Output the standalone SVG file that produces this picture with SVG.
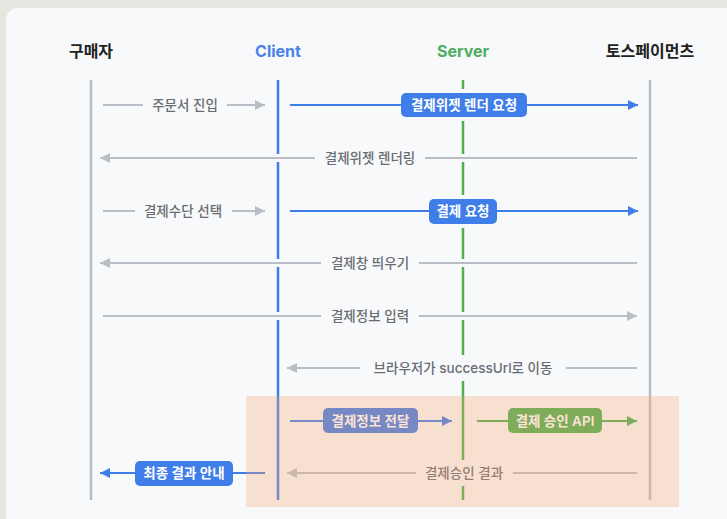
<svg xmlns="http://www.w3.org/2000/svg" width="727" height="519" viewBox="0 0 727 519">
  <style>
    text { font-family: "Inter", "Noto Sans CJK KR", "Noto Sans", sans-serif; }
    .hdr { font-size: 16px; font-weight: 700; text-anchor: middle; }
    .lbl { font-size: 13.5px; fill: #686c73; text-anchor: middle; font-weight: 500; }
    .box-t { font-size: 13.5px; fill: #ffffff; text-anchor: middle; font-weight: 600; }
    .life { stroke-width: 2.5; fill: none; }
    .halo { stroke: #f8f9fa; stroke-width: 8; fill: none; }
    .gray { stroke: #b9bdc5; stroke-width: 2; fill: none; }
    .blue { stroke: #3f7de8; stroke-width: 2; fill: none; }
    .green { stroke: #4caf50; stroke-width: 2; fill: none; }
    .bg { fill: #f8f9fa; }
  </style>
  <defs>
    <marker id="ah-gray" markerUnits="userSpaceOnUse" markerWidth="11" markerHeight="11" refX="10" refY="5" orient="auto">
      <path d="M0,0 L10,5 L0,10 Z" fill="#b9bdc5"/>
    </marker>
    <marker id="ah-blue" markerUnits="userSpaceOnUse" markerWidth="11" markerHeight="11" refX="10" refY="5" orient="auto">
      <path d="M0,0 L10,5 L0,10 Z" fill="#3f7de8"/>
    </marker>
    <marker id="ah-green" markerUnits="userSpaceOnUse" markerWidth="11" markerHeight="11" refX="10" refY="5" orient="auto">
      <path d="M0,0 L10,5 L0,10 Z" fill="#4caf50"/>
    </marker>
  </defs>

  <rect x="0" y="0" width="727" height="519" fill="#e7e5e0"/>
  <rect x="6" y="8" width="740" height="530" rx="12" fill="#f8f9fa"/>

  <g id="buyer">
    <text class="hdr" x="91" y="57" fill="#222222">구매자</text>
    <line class="life" x1="91" y1="80" x2="91" y2="500" stroke="#b9bdc5"/>
  </g>
  <g id="client">
    <text class="hdr" x="278" y="57" fill="#4a82ea" font-weight="600">Client</text>
    <line class="life" x1="278" y1="80" x2="278" y2="500" stroke="#3f7de8"/>
  </g>
  <g id="server">
    <text class="hdr" x="463" y="57" fill="#4cae62" font-weight="600">Server</text>
    <line class="life" x1="463" y1="80" x2="463" y2="500" stroke="#4caf50"/>
  </g>
  <g id="tosspayments">
    <text class="hdr" x="650" y="57" fill="#222222">토스페이먼츠</text>
    <line class="life" x1="650" y1="80" x2="650" y2="500" stroke="#b9bdc5"/>
  </g>

  <g id="connectors">
    <!-- Row 1 -->
    <line class="gray" x1="103" y1="105" x2="265" y2="105" marker-end="url(#ah-gray)"/>
    <rect class="bg" x="143" y="95" width="84" height="20"/>
    <text class="lbl" x="185" y="110">주문서 진입</text>

    <line class="blue" x1="290" y1="105" x2="638" y2="105" marker-end="url(#ah-blue)"/>
    <rect class="bg" x="401" y="89" width="126" height="32"/>
    <rect x="401" y="93" width="126" height="24" rx="5" fill="#3f7de8"/>
    <text class="box-t" x="464" y="110">결제위젯 렌더 요청</text>

    <!-- Row 2 -->
    <line class="halo" x1="110" y1="158" x2="637" y2="158"/>
    <line class="gray" x1="637" y1="158" x2="100" y2="158" marker-end="url(#ah-gray)"/>
    <rect class="bg" x="315" y="147" width="110" height="22"/>
    <text class="lbl" x="370" y="163">결제위젯 렌더링</text>

    <!-- Row 3 -->
    <line class="gray" x1="103" y1="211" x2="265" y2="211" marker-end="url(#ah-gray)"/>
    <rect class="bg" x="135" y="200" width="97" height="22"/>
    <text class="lbl" x="183" y="216">결제수단 선택</text>

    <line class="blue" x1="290" y1="211" x2="638" y2="211" marker-end="url(#ah-blue)"/>
    <rect class="bg" x="429" y="195" width="68" height="33"/>
    <rect x="429" y="199" width="68" height="25" rx="5" fill="#3f7de8"/>
    <text class="box-t" x="463" y="216">결제 요청</text>

    <!-- Row 4 -->
    <line class="halo" x1="110" y1="263" x2="637" y2="263"/>
    <line class="gray" x1="637" y1="263" x2="100" y2="263" marker-end="url(#ah-gray)"/>
    <rect class="bg" x="321" y="252" width="98" height="22"/>
    <text class="lbl" x="370" y="268">결제창 띄우기</text>

    <!-- Row 5 -->
    <line class="halo" x1="103" y1="316" x2="627" y2="316"/>
    <line class="gray" x1="103" y1="316" x2="637" y2="316" marker-end="url(#ah-gray)"/>
    <rect class="bg" x="321" y="305" width="98" height="22"/>
    <text class="lbl" x="370" y="321">결제정보 입력</text>

    <!-- Row 6 -->
    <line class="halo" x1="297" y1="368" x2="637" y2="368"/>
    <line class="gray" x1="637" y1="368" x2="287" y2="368" marker-end="url(#ah-gray)"/>
    <rect class="bg" x="360" y="355" width="206" height="26"/>
    <text class="lbl" x="463" y="373">브라우저가 successUrl로 이동</text>

    <!-- Row 7 -->
    <line class="blue" x1="290" y1="421" x2="452" y2="421" marker-end="url(#ah-blue)"/>
    <rect x="323" y="408" width="95" height="25" rx="5" fill="#3f7de8"/>
    <text class="box-t" x="370.5" y="425.5">결제정보 전달</text>

    <line class="green" x1="477" y1="421" x2="637" y2="421" marker-end="url(#ah-green)"/>
    <rect x="508" y="408" width="94" height="25" rx="5" fill="#4caf50"/>
    <text class="box-t" x="555" y="425.5">결제 승인 API</text>

    <!-- Row 8 -->
    <line class="halo" x1="297" y1="473" x2="637" y2="473"/>
    <line class="gray" x1="637" y1="473" x2="287" y2="473" marker-end="url(#ah-gray)"/>
    <rect class="bg" x="416" y="460" width="97" height="26"/>
    <text class="lbl" x="464" y="478">결제승인 결과</text>

    <line class="blue" x1="265" y1="473" x2="100" y2="473" marker-end="url(#ah-blue)"/>
    <rect x="135" y="461" width="98" height="25" rx="5" fill="#3f7de8"/>
    <text class="box-t" x="184" y="478">최종 결과 안내</text>
  </g>

  <rect id="highlight" x="246" y="396" width="433" height="111" fill="#f6a470" fill-opacity="0.3"/>
</svg>
